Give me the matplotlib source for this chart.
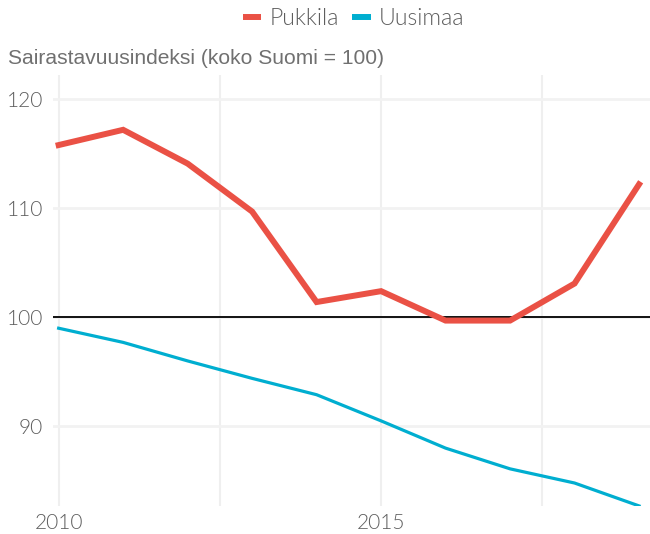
import matplotlib
matplotlib.use("Agg")
import matplotlib.pyplot as plt
from matplotlib.ticker import FixedLocator

years = [2010, 2011, 2012, 2013, 2014, 2015, 2016, 2017, 2018, 2019]
pukkila = [115.8, 117.2, 114.1, 109.7, 101.4, 102.4, 99.7, 99.7, 103.1, 112.2]
uusimaa = [99.0, 97.7, 96.0, 94.4, 92.9, 90.5, 88.0, 86.1, 84.8, 82.7]
series_names = ["Pukkila", "Uusimaa"]
y_ticks = [90, 100, 110, 120]
x_ticks = [2010, 2015]
title = "Sairastavuusindeksi (koko Suomi = 100)"

red = "#ea5145"
cyan = "#00aed0"
gray = "#5e5e5e"

fig = plt.figure(figsize=(6.5, 5.34), dpi=100)
ax = fig.add_axes([0.081, 0.0524, 0.919, 0.8072])

ax.set_xlim(2009.907, 2019.17)
ax.set_ylim(82.69, 122.23)

ax.xaxis.set_major_locator(FixedLocator(x_ticks))
ax.xaxis.set_minor_locator(FixedLocator([2012.5, 2017.5]))
ax.yaxis.set_major_locator(FixedLocator(y_ticks))

ax.grid(True, which="both", axis="x", color="#efefef", linewidth=1.5)
ax.grid(True, which="major", axis="y", color="#f2f2f2", linewidth=2)
ax.set_axisbelow(True)
for s in ax.spines.values():
    s.set_visible(False)
ax.tick_params(which="both", length=0)
ax.tick_params(axis="y", pad=7, labelsize=15, labelcolor=gray)
ax.tick_params(axis="x", pad=5, labelsize=15, labelcolor=gray)
for lab in ax.get_xticklabels() + ax.get_yticklabels():
    lab.set_family("Lato")
    lab.set_fontweight(300)

ax.axhline(100, color="black", linewidth=1.3, zorder=2)
ax.plot(years, pukkila, color=red, linewidth=4.3, label=series_names[0], zorder=3,
        solid_joinstyle="miter")
ax.plot(years, uusimaa, color=cyan, linewidth=2.3, label=series_names[1], zorder=3)

leg = fig.legend(handles=[
    plt.Line2D([], [], color=red, linewidth=4.3, solid_capstyle="butt"),
    plt.Line2D([], [], color=cyan, linewidth=4.3, solid_capstyle="butt")],
    labels=series_names, loc="center", bbox_to_anchor=(0.544, 0.966), ncol=2,
    frameon=False, handlelength=0.8, handletextpad=0.35, columnspacing=0.6,
    prop={"family": "Lato", "size": 16.7, "weight": 300})
for t in leg.get_texts():
    t.set_color(gray)

t = fig.text(8 / 650, 1 - 58 / 534, title, family="Liberation Sans", fontsize=13,
             color="#707070", ha="left", va="center")
fig.canvas.draw()
w = t.get_window_extent().width
t.set_fontsize(13 * 375.0 / w)

fig.savefig("out.png", dpi=100)
